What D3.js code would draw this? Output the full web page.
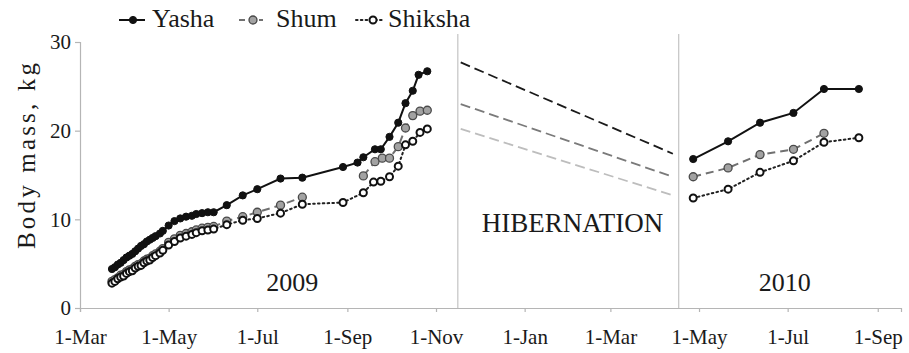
<!DOCTYPE html>
<html>
<head>
<meta charset="utf-8">
<script src="https://cdn.jsdelivr.net/npm/d3@7"></script>
<style>
  html, body { margin: 0; padding: 0; background: #fff; }
  svg { display: block; }
  svg text { font-family: "Liberation Serif", Tinos, "Times New Roman", Times, "DejaVu Serif", serif; }
</style>
</head>
<body>
<svg id="chart" width="909" height="353"></svg>
<script>
// Body mass of three bear cubs across two active seasons, with the
// hibernation interval between them.

const seriesNames = ["Yasha", "Shum", "Shiksha"];

// --- 2009 season ---
const yashaDates2009 = [
  "2009-03-23","2009-03-25","2009-03-27","2009-03-29","2009-03-31","2009-04-02",
  "2009-04-04","2009-04-06","2009-04-08","2009-04-10","2009-04-12","2009-04-14",
  "2009-04-16","2009-04-18","2009-04-20","2009-04-22","2009-04-25","2009-04-27",
  "2009-05-01","2009-05-05","2009-05-09","2009-05-13","2009-05-17","2009-05-20",
  "2009-05-24","2009-05-28","2009-06-01","2009-06-10","2009-06-21","2009-07-01",
  "2009-07-17","2009-08-01","2009-08-29","2009-09-08","2009-09-12","2009-09-20",
  "2009-09-24","2009-09-30","2009-10-06","2009-10-11","2009-10-16","2009-10-20",
  "2009-10-26"
];
const yashaMass2009 = [
  4.4, 4.6, 4.9, 5.1, 5.4, 5.7, 5.9, 6.1, 6.4, 6.7, 7.0, 7.2, 7.5, 7.7, 7.9, 8.1,
  8.4, 8.7, 9.3, 9.8, 10.1, 10.3, 10.4, 10.6, 10.7, 10.8, 10.8, 11.6, 12.7, 13.4,
  14.6, 14.7, 15.9, 16.4, 17.0, 17.9, 17.9, 19.3, 20.9, 23.1, 24.5, 26.3, 26.7
];

// a null marks a gap in the weighing record
const shumDates2009 = [
  "2009-03-23","2009-03-25","2009-03-27","2009-03-29","2009-03-31","2009-04-02",
  "2009-04-04","2009-04-06","2009-04-08","2009-04-10","2009-04-12","2009-04-14",
  "2009-04-16","2009-04-18","2009-04-20","2009-04-22","2009-04-25","2009-04-27",
  "2009-05-01","2009-05-05","2009-05-09","2009-05-13","2009-05-17","2009-05-20",
  "2009-05-24","2009-05-28","2009-06-01","2009-06-10","2009-06-21","2009-07-01",
  "2009-07-17","2009-08-01","2009-08-29","2009-09-12","2009-09-20","2009-09-25",
  "2009-09-30","2009-10-06","2009-10-11","2009-10-16","2009-10-21","2009-10-26"
];
const shumMass2009 = [
  3.0, 3.2, 3.4, 3.7, 3.8, 4.1, 4.3, 4.4, 4.7, 4.9, 5.0, 5.3, 5.5, 5.6, 5.9, 6.1,
  6.4, 6.7, 7.4, 7.8, 8.2, 8.4, 8.6, 8.8, 9.0, 9.1, 9.2, 9.8, 10.3, 10.8,
  11.6, 12.5, null, 14.9, 16.5, 16.9, 16.9, 18.2, 20.3, 21.7, 22.2, 22.3
];

const shikshaDates2009 = [
  "2009-03-23","2009-03-25","2009-03-27","2009-03-29","2009-03-31","2009-04-02",
  "2009-04-04","2009-04-06","2009-04-08","2009-04-10","2009-04-12","2009-04-14",
  "2009-04-16","2009-04-18","2009-04-20","2009-04-22","2009-04-25","2009-04-27",
  "2009-05-01","2009-05-05","2009-05-09","2009-05-13","2009-05-17","2009-05-20",
  "2009-05-24","2009-05-28","2009-06-01","2009-06-10","2009-06-21","2009-07-01",
  "2009-07-17","2009-08-01","2009-08-29","2009-09-12","2009-09-19","2009-09-24",
  "2009-09-30","2009-10-06","2009-10-11","2009-10-16","2009-10-21","2009-10-26"
];
const shikshaMass2009 = [
  2.8, 3.0, 3.3, 3.5, 3.6, 3.9, 4.1, 4.2, 4.5, 4.7, 4.8, 5.1, 5.3, 5.4, 5.7, 5.9,
  6.2, 6.5, 7.1, 7.5, 7.9, 8.1, 8.3, 8.5, 8.7, 8.8, 8.9, 9.4, 9.9, 10.1,
  10.7, 11.7, 11.9, 13.0, 14.2, 14.3, 14.8, 16.0, 18.4, 18.8, 19.8, 20.2
];

// --- 2010 season ---
const yashaDates2010 = ["2010-04-27","2010-05-21","2010-06-12","2010-07-05","2010-07-26","2010-08-19"];
const yashaMass2010  = [16.8, 18.8, 20.9, 22.0, 24.7, 24.7];
const shumDates2010  = ["2010-04-27","2010-05-21","2010-06-12","2010-07-05","2010-07-26"];
const shumMass2010   = [14.8, 15.8, 17.3, 17.9, 19.7];
const shikshaDates2010 = ["2010-04-27","2010-05-21","2010-06-12","2010-07-05","2010-07-26","2010-08-19"];
const shikshaMass2010  = [12.4, 13.4, 15.3, 16.6, 18.7, 19.2];

// --- hibernation trend (start and end of the dormant period) ---
const hibernationDates = ["2009-11-18", "2010-04-13"];
const yashaHibernation   = [27.7, 17.4];
const shumHibernation    = [23.0, 14.8];
const shikshaHibernation = [20.2, 12.7];

// season boundaries and labels
const boundaryDates = ["2009-11-16", "2010-04-17"];
const seasonLabels = ["2009", "HIBERNATION", "2010"];
const seasonLabelDates = ["2009-07-25", "2010-02-03", "2010-06-29"];
const seasonLabelValues = [1.9, 8.6, 1.9];

// axis settings
const xDomain = ["2009-03-01", "2010-09-17"];
const yTicks = [0, 10, 20, 30];
const yLabel = "Body mass, kg";

// ---------------------------------------------------------------
const FONT = '"Liberation Serif", Tinos, "Times New Roman", Times, "DejaVu Serif", serif';
const parse = d3.utcParse("%Y-%m-%d");
const svg = d3.select("#chart");

const x = d3.scaleUtc().domain(xDomain.map(parse)).range([80, 901]);
const y = d3.scaleLinear().domain([0, 30]).range([308, 42]);

const zip = (dates, vals) => dates.map((d, i) => ({ date: parse(d), v: vals[i] }));

const styles = {
  Yasha:   { line: "#111", width: 2, dash: null, fill: "#111", stroke: "#111", sw: 1, r: 3.6, hib: "#1a1a1a" },
  Shum:    { line: "#707070", width: 2, dash: "8,5", fill: "#a2a2a2", stroke: "#4a4a4a", sw: 1.3, r: 4, hib: "#7a7a7a" },
  Shiksha: { line: "#222", width: 2, dash: "1.6,3.2", fill: "#fff", stroke: "#111", sw: 2, r: 3.5, hib: "#bdbdbd" }
};

const data = {
  Yasha:   [zip(yashaDates2009, yashaMass2009), zip(yashaDates2010, yashaMass2010)],
  Shum:    [zip(shumDates2009, shumMass2009), zip(shumDates2010, shumMass2010)],
  Shiksha: [zip(shikshaDates2009, shikshaMass2009), zip(shikshaDates2010, shikshaMass2010)]
};
const hibernation = {
  Yasha: zip(hibernationDates, yashaHibernation),
  Shum: zip(hibernationDates, shumHibernation),
  Shiksha: zip(hibernationDates, shikshaHibernation)
};

// axes
const xAxis = d3.axisBottom(x)
  .ticks(d3.utcMonth.every(2))
  .tickFormat(d3.utcFormat("%-d-%b"))
  .tickSizeOuter(0).tickSize(4).tickPadding(17);
const gx = svg.append("g").attr("transform", `translate(0,${y(0)})`).call(xAxis);

const yAxis = d3.axisLeft(y).tickValues(yTicks).tickSizeOuter(0).tickSize(5).tickPadding(4);
const gy = svg.append("g").attr("transform", `translate(${x(parse(xDomain[0]))},0)`).call(yAxis);

[gx, gy].forEach(g => {
  g.attr("font-family", FONT).attr("font-size", 21);
  g.selectAll(".domain, line").attr("stroke", "#b5b5b5").attr("stroke-width", 1.2);
  g.selectAll("text").attr("fill", "#1a1a1a");
});

svg.append("text")
  .attr("transform", `translate(26,156) rotate(-90)`)
  .attr("text-anchor", "middle").attr("dy", "0.35em")
  .attr("font-size", 25).attr("fill", "#1a1a1a")
  .attr("textLength", 186).attr("lengthAdjust", "spacing")
  .text(yLabel);

// season boundaries
svg.selectAll(".boundary").data(boundaryDates).join("line")
  .attr("x1", d => x(parse(d))).attr("x2", d => x(parse(d)))
  .attr("y1", 34).attr("y2", y(0))
  .attr("stroke", "#c8c8c8").attr("stroke-width", 1.3);

// season labels
svg.selectAll(".season").data(seasonLabels).join("text")
  .attr("x", (d, i) => x(parse(seasonLabelDates[i])))
  .attr("y", (d, i) => y(seasonLabelValues[i]))
  .attr("text-anchor", "middle").attr("font-size", (d, i) => i === 1 ? 27 : 26).attr("fill", "#1a1a1a")
  .text(d => d);

// hibernation trend lines
seriesNames.forEach(name => {
  svg.append("path").datum(hibernation[name])
    .attr("fill", "none").attr("stroke", styles[name].hib).attr("stroke-width", 1.8)
    .attr("stroke-dasharray", "10,5")
    .attr("d", d3.line().x(d => x(d.date)).y(d => y(d.v)));
});

// season series
const line = d3.line().defined(d => d.v != null).x(d => x(d.date)).y(d => y(d.v));
seriesNames.forEach(name => {
  const s = styles[name];
  const g = svg.append("g");
  data[name].forEach(seg => {
    g.append("path").datum(seg)
      .attr("fill", "none").attr("stroke", s.line).attr("stroke-width", s.width)
      .attr("stroke-dasharray", s.dash).attr("stroke-linecap", name === "Shiksha" ? "round" : "butt")
      .attr("d", line);
    g.selectAll(null).data(seg.filter(d => d.v != null)).join("circle")
      .attr("cx", d => x(d.date)).attr("cy", d => y(d.v)).attr("r", s.r)
      .attr("fill", s.fill).attr("stroke", s.stroke).attr("stroke-width", s.sw);
  });
});

// legend
const legendItems = [
  { name: "Yasha", x0: 119, x1: 145, cx: 133, tx: 152 },
  { name: "Shum", x0: 239, x1: 263, cx: 253, tx: 276 },
  { name: "Shiksha", x0: 356, x1: 382, cx: 373, tx: 388 }
];
const lg = svg.append("g");
legendItems.forEach(it => {
  const s = styles[it.name];
  lg.append("line").attr("x1", it.x0).attr("x2", it.x1).attr("y1", 20).attr("y2", 20)
    .attr("stroke", s.line).attr("stroke-width", s.width)
    .attr("stroke-dasharray", it.name === "Shum" ? "6,4" : s.dash)
    .attr("stroke-linecap", it.name === "Shiksha" ? "round" : "butt");
  lg.append("circle").attr("cx", it.cx).attr("cy", 20).attr("r", s.r)
    .attr("fill", s.fill).attr("stroke", s.stroke).attr("stroke-width", s.sw);
  lg.append("text").attr("x", it.tx).attr("y", 27).attr("font-size", 26)
    .attr("fill", "#1a1a1a").text(it.name);
});
</script>
</body>
</html>
